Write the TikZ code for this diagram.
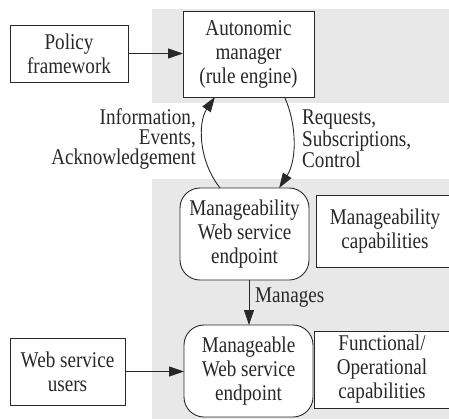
\documentclass[tikz,border=0pt]{standalone}
\usepackage{fontspec}
\setmainfont[FakeStretch=0.85]{Liberation Serif}
\usetikzlibrary{arrows.meta}
\definecolor{band}{RGB}{232,232,232}
\definecolor{ink}{RGB}{40,40,40}
\begin{document}
\begin{tikzpicture}[x=1pt,y=-1pt,
  box/.style={draw=ink, line width=0.9pt, fill=white, rectangle, outer sep=0pt, inner sep=0pt,
    align=center, text=ink, font=\fontsize{22.5}{24}\selectfont},
  rbox/.style={box, rounded corners=20pt},
  lbl/.style={text=ink, inner sep=0pt, font=\fontsize{22.5}{16.5}\selectfont},
  arr/.style={draw=ink, line width=0.9pt, -{Triangle[length=15pt,width=10pt]}}]
\useasboundingbox (0,0) rectangle (449,418);
\fill[white] (0,0) rectangle (449,418);
\begin{scope}
\clip (0,0) rectangle (449,418);
\fill[band] (152,9) rectangle (452,103);
\fill[band] (152,179) rectangle (452,420);
\node[box, minimum width=118pt, minimum height=57pt] (policy) at (69,53.5) {Policy\\framework};
\node[box, minimum width=131pt, minimum height=86pt] (auto) at (248.5,54) {Autonomic\\manager\\(rule engine)};
\node[rbox, minimum width=129pt, minimum height=92pt] (mwse) at (244.5,234) {Manageability\\Web service\\endpoint};
\node[box, minimum width=138pt, minimum height=72pt, text width=130pt] (mcap) at (385,231) {Manageability\\capabilities};
\node[rbox, minimum width=129pt, minimum height=92pt] (mwse2) at (248.5,371) {Manageable\\Web service\\endpoint};
\node[box, minimum width=136pt, minimum height=77pt, text width=130pt] (func) at (382,369.5) {Functional/\\Operational\\capabilities};
\node[box, minimum width=115pt, minimum height=67pt] (users) at (67.5,371.5) {Web service\\users};
\end{scope}
\draw[arr] (policy.east) -- (policy.east -| auto.west);
\draw[arr] (users.east) -- (users.east -| mwse2.west);
\draw[arr] (mwse.south -| 249,0) -- (mwse2.north -| 249,0);
\draw[arr] (mwse.118) .. controls (198,160) and (198,122) .. (auto.-128);
\draw[arr] (auto.-50) .. controls (297,125) and (297,160) .. (mwse.53);
\node[lbl, anchor=east, align=right] (lblL) at (196,139) {Information,\\Events,\\Acknowledgement};
\node[lbl, anchor=west, align=left] (lblR) at (302,139) {Requests,\\Subscriptions,\\Control};
\node[lbl, anchor=west] (lblM) at (255,298) {Manages};
\end{tikzpicture}
\end{document}
